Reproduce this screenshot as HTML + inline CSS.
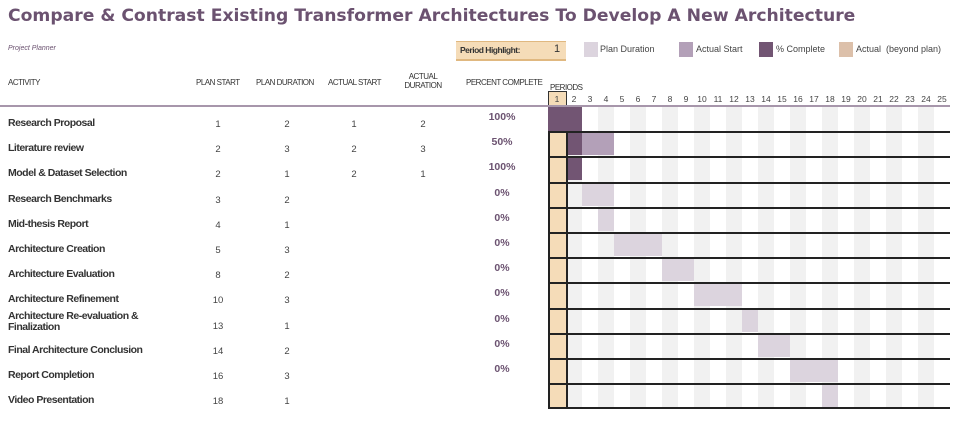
<!DOCTYPE html>
<html><head><meta charset="utf-8"><style>
body{margin:0;width:961px;height:425px;background:#fff;position:relative;overflow:hidden;font-family:"Liberation Sans",sans-serif;}
div{position:absolute;}
.t{font-family:"DejaVu Sans",sans-serif;font-weight:bold;font-size:17.2px;color:#6b5270;left:8px;top:6px;white-space:nowrap;}
.h{font-size:8px;color:#333;letter-spacing:-0.5px;white-space:nowrap;}
.a{font-size:10.5px;font-weight:bold;color:#333;left:8px;white-space:nowrap;letter-spacing:-0.5px;}
.n{font-size:9.5px;color:#444;width:40px;text-align:center;}
.p{font-size:10.5px;font-weight:bold;color:#6b5270;width:50px;text-align:center;left:477px;}
.c{font-size:8.5px;color:#444;width:16px;text-align:center;top:94px;}
.l{font-size:9px;color:#444;top:44px;white-space:nowrap;}
</style></head><body>
<div class="t">Compare &amp; Contrast Existing Transformer Architectures To Develop A New Architecture</div>
<div style="left:8px;top:45px;font-size:7px;font-style:italic;color:#6b5270;">Project Planner</div>
<div style="left:456px;top:41px;width:110px;height:17px;background:#f5dcb8;border-bottom:2px solid #e0b880;border-top:1px solid #e0b880;"></div>
<div class="h" style="left:460px;top:45px;font-weight:bold;font-size:8.5px;">Period Highlight:</div>
<div style="left:554px;top:43px;font-size:11px;color:#333;">1</div>
<div style="left:584px;top:42px;width:14px;height:15px;background:#dcd4de;"></div><div class="l" style="left:600px;">Plan Duration</div>
<div style="left:679px;top:42px;width:14px;height:15px;background:#b3a0b8;"></div><div class="l" style="left:696px;">Actual Start</div>
<div style="left:759px;top:42px;width:14px;height:15px;background:#725573;"></div><div class="l" style="left:776px;">% Complete</div>
<div style="left:839px;top:42px;width:14px;height:15px;background:#dcc0aa;"></div><div class="l" style="left:856px;">Actual &nbsp;(beyond plan)</div>
<div class="h" style="left:8px;top:78px;">ACTIVITY</div>
<div class="h" style="left:196px;top:78px;">PLAN START</div>
<div class="h" style="left:256px;top:78px;">PLAN DURATION</div>
<div class="h" style="left:328px;top:78px;">ACTUAL START</div>
<div class="h" style="left:398px;top:72px;width:50px;text-align:center;line-height:9px;">ACTUAL<br>DURATION</div>
<div class="h" style="left:466px;top:78px;">PERCENT COMPLETE</div>
<div class="h" style="left:550px;top:83px;">PERIODS</div>
<div id="g"></div>
<div style="left:0;top:105px;width:950px;height:2px;background:#a796ab;"></div>
<script>
var s='';
var cx=function(n){return n==1?548:566+(n-2)*16;};
var cw=function(n){return n==1?18:16;};
for(var n=2;n<=25;n+=2)s+='<div style="left:'+cx(n)+'px;top:107px;width:16px;height:301px;background:#f1f1f1"></div>';
s+='<div style="left:548px;top:131px;width:18px;height:277px;background:#f5dcb8"></div>';
s+='<div style="left:548px;top:91px;width:17px;height:14px;background:#f5dcb8;border:1px solid #333;border-bottom:none"></div>';
for(var n=1;n<=25;n++)s+='<div class="c" style="left:'+cx(n)+'px;width:'+cw(n)+'px">'+n+'</div>';
var rows=[["Research Proposal",1,2,1,2,"100%"],["Literature review",2,3,2,3,"50%"],["Model & Dataset Selection",2,1,2,1,"100%"],["Research Benchmarks",3,2,"","","0%"],["Mid-thesis Report",4,1,"","","0%"],["Architecture Creation",5,3,"","","0%"],["Architecture Evaluation",8,2,"","","0%"],["Architecture Refinement",10,3,"","","0%"],["Architecture Re-evaluation &amp;<br>Finalization",13,1,"","","0%"],["Final Architecture Conclusion",14,2,"","","0%"],["Report Completion",16,3,"","","0%"],["Video Presentation",18,1,"","",""]];
var top0=106,rh=25.2;
function bar(a,b,y,c){var x=cx(a),w=cx(b)+cw(b)-x;s+='<div style="left:'+x+'px;top:'+y+'px;width:'+w+'px;height:24px;background:'+c+'"></div>';}
for(var i=0;i<12;i++){var r=rows[i],y=Math.round(top0+i*rh);
var by=i==0?107:y;
if(i>2)bar(r[1],r[1]+r[2]-1,by,'#dcd4de');
if(i==1){bar(3,4,by,'#b3a0b8');bar(2,2,by,'#725573');}
if(i==0)bar(1,2,by,'#725573');
if(i==2)bar(2,2,by,'#725573');
if(i==8)s+='<div class="a" style="top:'+(y+3)+'px;line-height:11px">'+r[0]+'</div>';
else s+='<div class="a" style="top:'+(y+11)+'px">'+r[0]+'</div>';
s+='<div class="n" style="left:198px;top:'+(y+13)+'px">'+r[1]+'</div><div class="n" style="left:267px;top:'+(y+13)+'px">'+r[2]+'</div><div class="n" style="left:334px;top:'+(y+13)+'px">'+r[3]+'</div><div class="n" style="left:403px;top:'+(y+13)+'px">'+r[4]+'</div>';
s+='<div class="p" style="top:'+(y+5)+'px">'+r[5]+'</div>';
if(i>0)s+='<div style="left:548px;top:'+y+'px;width:402px;height:1.5px;background:#222"></div>';}
s+='<div style="left:548px;top:407px;width:402px;height:1.5px;background:#222"></div>';
s+='<div style="left:548px;top:131px;width:1.5px;height:277px;background:#222"></div>';
s+='<div style="left:566px;top:131px;width:1.5px;height:277px;background:#222"></div>';
document.getElementById('g').outerHTML=s;
</script>
</body></html>
